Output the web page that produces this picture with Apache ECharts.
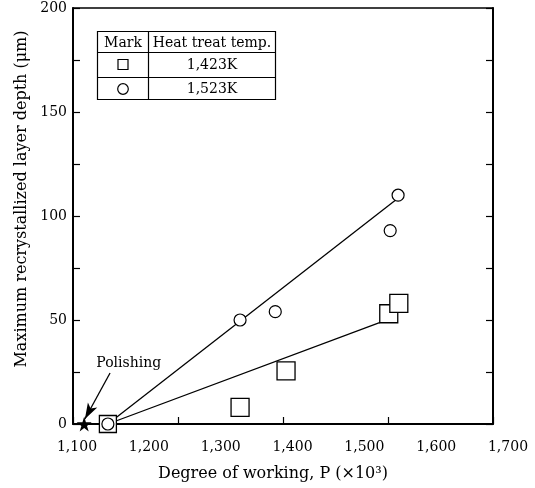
<!DOCTYPE html>
<html style="height: 100%" lang="en">

<head>
  <meta charset="utf-8">
  <script type="text/javascript" src="https://cdn.jsdelivr.net/npm/echarts@6/dist/echarts.min.js"></script>
</head>

<body style="height: 100%; margin: 0; background: #fff">
  <div id="container" style="width: 535px; height: 488px"></div>
  <script type="text/javascript">
    // values: [degree of working P (x10^3), depth (um)]
    var square1423 = [[1143, 0], [1327, 8], [1391, 25.5], [1534, 53], [1548, 58]];
    var circle1523 = [[1143, 0], [1327, 50], [1376, 54], [1536, 93], [1547, 110]];
    var polishing = [[1110, 0]];
    // the two straight lines drawn through the points
    var fit1423 = [[1143, 0], [1523, 49]];
    var fit1523 = [[1143, 0], [1545, 108]];
    // "Polishing" note and its arrow
    var polishingArrow = [[1146, 24.5], [1111, 2.4]];
    var polishingLabelAt = [1172, 29];
    var xTicks = [1100, 1200, 1300, 1400, 1500, 1600, 1700];
    var yTicks = [0, 50, 100, 150, 200];

    var font = 'DejaVu Serif';
    var dom = document.getElementById("container");
    var myChart = echarts.init(dom);

    function withComma(v) {
      return String(v).replace(/\B(?=(\d{3})+(?!\d))/g, ',');
    }

    function frameLine(w) {
      return { show: true, onZero: false, lineStyle: { color: '#000', width: w } };
    }
    function innerTick() {
      return { show: true, inside: true, length: 7, lineStyle: { color: '#000', width: 1.2 } };
    }
    var star = 'path://M50,0 L61,35 L98,35 L68,57 L79,91 L50,70 L21,91 L32,57 L2,35 L39,35 Z';

    var option = {
      backgroundColor: '#fff',
      animation: false,
      grid: [
        // the drawn frame
        { left: 73, right: 42, top: 8, bottom: 64 },
        // the scale the printed labels follow
        { left: 77, right: 27, top: 8, bottom: 64 }
      ],
      xAxis: [{
        gridIndex: 0, type: 'value', min: 0, max: 4, interval: 1, position: 'bottom',
        axisLine: frameLine(2), axisTick: innerTick(),
        axisLabel: { show: false }, splitLine: { show: false },
        name: 'Degree of working, P (×10³)',
        nameLocation: 'middle', nameGap: 42,
        nameTextStyle: { color: '#000', fontFamily: font, fontSize: 16, padding: [0, 20, 0, 0] }
      }, {
        gridIndex: 0, type: 'value', min: 0, max: 4, position: 'top',
        axisLine: frameLine(1.5),
        axisTick: { show: false }, axisLabel: { show: false }, splitLine: { show: false }
      }, {
        gridIndex: 1, type: 'value', min: 1100, max: 1700, interval: 100,
        axisLine: { show: false }, axisTick: { show: false }, splitLine: { show: false },
        axisLabel: {
          margin: 16, color: '#000', fontFamily: font, fontSize: 14,
          formatter: function(v) {
            return xTicks.indexOf(v) >= 0 ? withComma(v) : '';
          }
        }
      }],
      yAxis: [{
        gridIndex: 0, type: 'value', min: 0, max: 200, interval: 25, position: 'left',
        axisLine: frameLine(2), axisTick: innerTick(), splitLine: { show: false },
        axisLabel: {
          margin: 6, color: '#000', fontFamily: font, fontSize: 14,
          formatter: function(v) {
            return yTicks.indexOf(v) >= 0 ? String(v) : '';
          }
        },
        name: 'Maximum recrystallized layer depth (μm)',
        nameLocation: 'middle', nameGap: 33,
        nameTextStyle: { color: '#000', fontFamily: font, fontSize: 16, padding: [0, 0, 0, 34] }
      }, {
        gridIndex: 0, type: 'value', min: 0, max: 200, interval: 25, position: 'right',
        axisLine: frameLine(2), axisTick: innerTick(),
        axisLabel: { show: false }, splitLine: { show: false }
      }, {
        gridIndex: 1, type: 'value', min: 0, max: 200, show: false
      }],
      series: [{
        type: 'line', xAxisIndex: 2, yAxisIndex: 2, data: fit1423,
        symbol: 'none', z: 1, lineStyle: { color: '#000', width: 1.3 }
      }, {
        type: 'line', xAxisIndex: 2, yAxisIndex: 2, data: fit1523,
        symbol: 'none', z: 1, lineStyle: { color: '#000', width: 1.3 }
      }, {
        name: '1,423K', type: 'scatter', xAxisIndex: 2, yAxisIndex: 2, data: square1423,
        symbol: 'rect', symbolSize: function(v) { return v[1] === 0 ? 17 : 18; }, z: 3,
        itemStyle: { color: '#fff', borderColor: '#000', borderWidth: 1.3, opacity: 1 }
      }, {
        name: '1,523K', type: 'scatter', xAxisIndex: 2, yAxisIndex: 2, data: circle1523,
        symbol: 'circle', symbolSize: 12, z: 4,
        itemStyle: { color: '#fff', borderColor: '#000', borderWidth: 1.2, opacity: 1 }
      }, {
        name: 'Polishing', type: 'scatter', xAxisIndex: 2, yAxisIndex: 2, data: polishing,
        symbol: star, symbolSize: 15, z: 4,
        itemStyle: { color: '#000', opacity: 1 },
        markLine: {
          silent: true, symbol: ['none', 'arrow'], symbolSize: [8, 16],
          lineStyle: { color: '#000', width: 1.3, type: 'solid' },
          label: { show: false },
          data: [[{ coord: polishingArrow[0] }, { coord: polishingArrow[1] }]]
        }
      }]
    };
    myChart.setOption(option);

    // legend table (top left) and the "Polishing" note
    var tableFont = '14px "DejaVu Serif"';
    function cellText(text, x, y) {
      return {
        type: 'text', x: x, y: y,
        style: { text: text, font: tableFont, fill: '#000', textAlign: 'center', textVerticalAlign: 'middle' }
      };
    }
    var lineStyle = { stroke: '#000', lineWidth: 1.2 };
    var labelPos = myChart.convertToPixel({ seriesIndex: 4 }, polishingLabelAt);

    myChart.setOption({
      graphic: [{
        type: 'group', left: 95, top: 29,
        children: [
          { type: 'rect', shape: { x: 0, y: 0, width: 178, height: 68 }, style: { fill: '#fff', stroke: '#000', lineWidth: 1.2 } },
          { type: 'line', shape: { x1: 0, y1: 21, x2: 178, y2: 21 }, style: lineStyle },
          { type: 'line', shape: { x1: 0, y1: 46, x2: 178, y2: 46 }, style: lineStyle },
          { type: 'line', shape: { x1: 51, y1: 0, x2: 51, y2: 68 }, style: lineStyle },
          cellText('Mark', 25.5, 12),
          cellText('Heat treat temp.', 114.5, 12),
          { type: 'rect', shape: { x: 20.5, y: 28, width: 10, height: 10 }, style: { fill: '#fff', stroke: '#000', lineWidth: 1.2 } },
          cellText('1,423K', 114.5, 33.5),
          { type: 'circle', shape: { cx: 25.5, cy: 57.5, r: 5.3 }, style: { fill: '#fff', stroke: '#000', lineWidth: 1.2 } },
          cellText('1,523K', 114.5, 57.5)
        ]
      }, {
        type: 'text', x: labelPos[0], y: labelPos[1],
        style: { text: 'Polishing', font: tableFont, fill: '#000', textAlign: 'center', textVerticalAlign: 'middle' }
      }]
    });
  </script>
</body>

</html>
